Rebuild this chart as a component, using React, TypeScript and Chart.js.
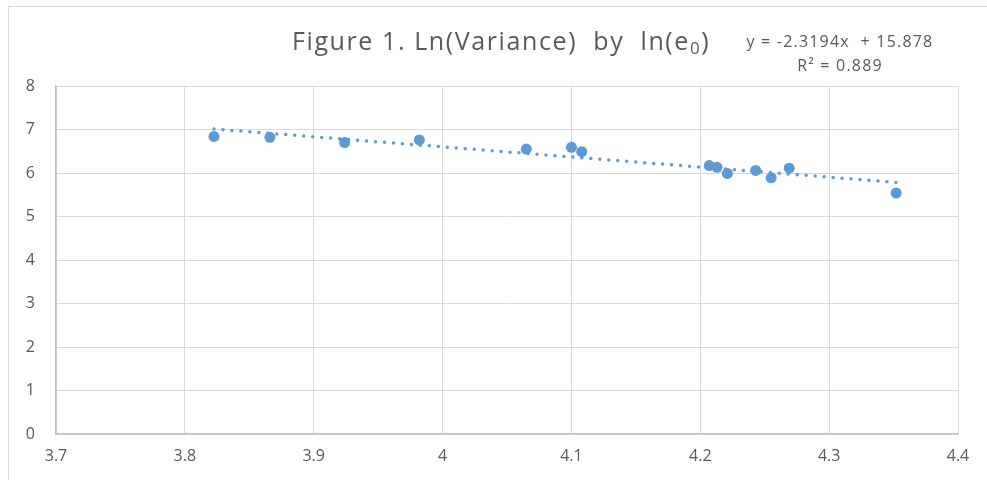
import React, { useEffect, useRef } from "react";
import { Chart, registerables } from "chart.js";

Chart.register(...registerables);

const lnE0: number[] = [3.8226, 3.866, 3.924, 3.982, 4.065, 4.1, 4.108, 4.207, 4.213, 4.221, 4.243, 4.255, 4.269, 4.352];
const lnVariance: number[] = [6.84, 6.82, 6.7, 6.76, 6.55, 6.59, 6.49, 6.17, 6.13, 5.99, 6.06, 5.89, 6.11, 5.54];

const slope = -2.3194;
const intercept = 15.878;
const rSquared = "0.889";

const titleMain = "Figure 1. Ln(Variance)  by  ln(e";
const titleSub = "0";
const titleEnd = ")";

const xMin = 3.7;
const xMax = 4.4;
const yMin = 0;
const yMax = 8;

const BLUE = "#5B9BD5";
const TEXT = "#595959";
const FONT = "'Open Sans', 'Noto Sans', sans-serif";

const decorPlugin = {
  id: "decor",
  beforeDraw(chart: any) {
    const ctx = chart.ctx;
    ctx.save();
    ctx.fillStyle = "#ffffff";
    ctx.fillRect(0, 0, chart.width, chart.height);
    ctx.strokeStyle = "#d9d9d9";
    ctx.lineWidth = 1;
    ctx.strokeRect(8.5, 6.5, chart.width + 20, chart.height + 20);
    ctx.restore();
  },
  afterDraw(chart: any) {
    const ctx = chart.ctx;
    ctx.save();
    ctx.fillStyle = TEXT;
    ctx.textBaseline = "alphabetic";
    ctx.textAlign = "left";
    // title
    const big = `25px ${FONT}`;
    const small = `17px ${FONT}`;
    ctx.letterSpacing = "1.6px";
    let x = 292;
    const base = 50;
    ctx.font = big;
    ctx.fillText(titleMain, x, base);
    x += ctx.measureText(titleMain).width;
    ctx.font = small;
    ctx.fillText(titleSub, x, base + 4);
    x += ctx.measureText(titleSub).width;
    ctx.font = big;
    ctx.fillText(titleEnd, x, base);
    // equation
    ctx.letterSpacing = "1.2px";
    ctx.font = `16px ${FONT}`;
    ctx.textAlign = "center";
    ctx.textBaseline = "middle";
    const sign = intercept >= 0 ? "+" : "-";
    ctx.fillText(`y = ${slope}x  ${sign} ${Math.abs(intercept)}`, 840, 42);
    ctx.fillText(`R\u00B2 = ${rSquared}`, 840, 66);
    ctx.restore();
  },
};

export default function App() {
  const ref = useRef<HTMLCanvasElement | null>(null);
  useEffect(() => {
    document.body.style.margin = "0";
    if (!ref.current) return;
    const points = lnE0.map((x, i) => ({ x, y: lnVariance[i] }));
    const tx0 = Math.min(...lnE0);
    const tx1 = Math.max(...lnE0);
    const trend = [
      { x: tx0, y: slope * tx0 + intercept },
      { x: tx1, y: slope * tx1 + intercept },
    ];
    const chart = new Chart(ref.current, {
      type: "scatter",
      data: {
        datasets: [
          {
            type: "line",
            label: "Trend",
            data: trend,
            borderColor: BLUE,
            borderWidth: 3.5,
            borderDash: [0, 9],
            borderCapStyle: "round",
            pointRadius: 0,
            fill: false,
            order: 0,
          } as any,
          {
            label: "ln(Variance)",
            data: points,
            backgroundColor: BLUE,
            borderColor: BLUE,
            pointRadius: 5.5,
            pointHoverRadius: 5.5,
            borderWidth: 0,
            order: 1,
          },
        ],
      },
      options: {
        animation: false,
        responsive: false,
        layout: { padding: { left: 0, right: 29, top: 86, bottom: 0 } },
        plugins: {
          legend: { display: false },
          title: { display: false },
          tooltip: { enabled: false },
        },
        scales: {
          x: {
            type: "linear",
            min: xMin,
            max: xMax,
            ticks: {
              stepSize: 0.1,
              color: TEXT,
              font: { family: FONT, size: 16 },
              padding: 13,
              callback: (v: any) => String(Math.round(Number(v) * 10) / 10),
            },
            grid: { color: "#d9d9d9", lineWidth: 1, drawTicks: false },
            border: { color: "#bfbfbf", width: 1.5 },
            afterFit: (s: any) => {
              s.height = 46;
            },
          },
          y: {
            type: "linear",
            min: yMin,
            max: yMax,
            ticks: {
              stepSize: 1,
              color: TEXT,
              font: { family: FONT, size: 16 },
              padding: 21,
            },
            grid: { color: "#d9d9d9", lineWidth: 1, drawTicks: false },
            border: { color: "#bfbfbf", width: 1.5 },
            afterFit: (s: any) => {
              s.width = 56;
            },
          },
        },
      },
      plugins: [decorPlugin],
    });
    return () => chart.destroy();
  }, []);
  return <canvas ref={ref} width={987} height={480} style={{ display: "block" }} />;
}
